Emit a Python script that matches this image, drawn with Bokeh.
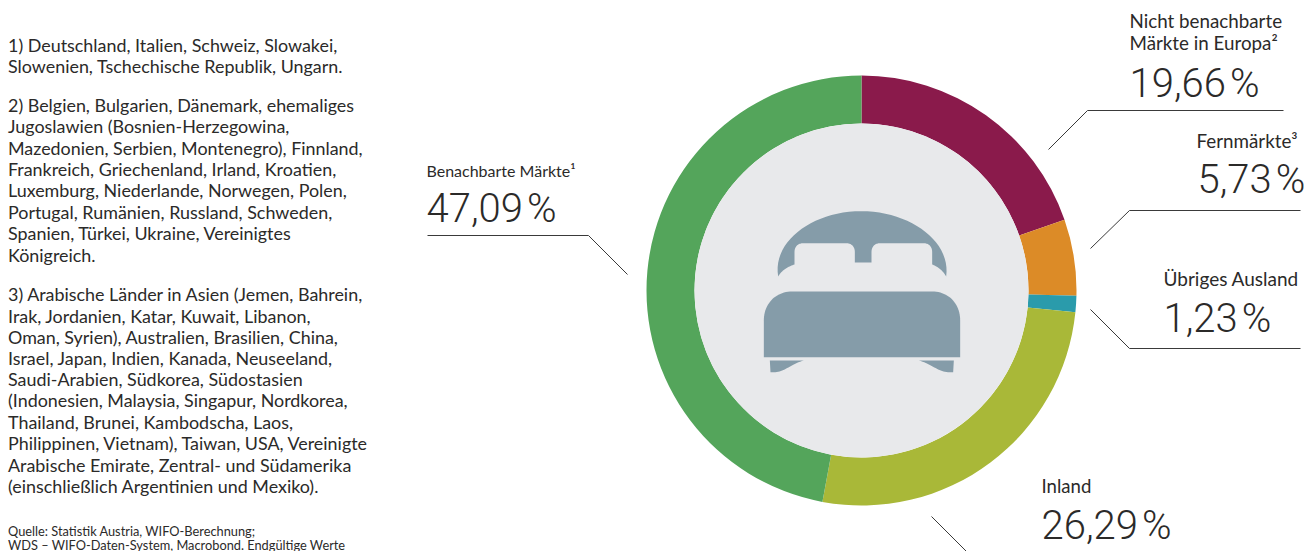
from math import pi
import numpy as np
from bokeh.plotting import figure
from bokeh.models import Range1d, ColumnDataSource
from bokeh.core.properties import value
from bokeh.embed import file_html
from bokeh.resources import INLINE

# ---- data
categories = ["Nicht benachbarte Märkte in Europa", "Fernmärkte", "Übriges Ausland", "Inland", "Benachbarte Märkte"]
shares = [19.66, 5.73, 1.23, 26.29, 47.09]
share_labels = ["19,66\u200a%", "5,73\u200a%", "1,23\u200a%", "26,29\u200a%", "47,09\u200a%"]
colors = ["#8a1a4b", "#dc8b27", "#2a9bab", "#a9b838", "#54a55b"]

footnotes = [
    "1) Deutschland, Italien, Schweiz, Slowakei,",
    "Slowenien, Tschechische Republik, Ungarn.",
    "2) Belgien, Bulgarien, Dänemark, ehemaliges",
    "Jugoslawien (Bosnien-Herzegowina,",
    "Mazedonien, Serbien, Montenegro), Finnland,",
    "Frankreich, Griechenland, Irland, Kroatien,",
    "Luxemburg, Niederlande, Norwegen, Polen,",
    "Portugal, Rumänien, Russland, Schweden,",
    "Spanien, Türkei, Ukraine, Vereinigtes",
    "Königreich.",
    "3) Arabische Länder in Asien (Jemen, Bahrein,",
    "Irak, Jordanien, Katar, Kuwait, Libanon,",
    "Oman, Syrien), Australien, Brasilien, China,",
    "Israel, Japan, Indien, Kanada, Neuseeland,",
    "Saudi-Arabien, Südkorea, Südostasien",
    "(Indonesien, Malaysia, Singapur, Nordkorea,",
    "Thailand, Brunei, Kambodscha, Laos,",
    "Philippinen, Vietnam), Taiwan, USA, Vereinigte",
    "Arabische Emirate, Zentral- und Südamerika",
    "(einschließlich Argentinien und Mexiko).",
]
footnote_base = [51, 72.5, 111, 132.5, 154, 175, 196, 218, 239.5, 261, 300.5, 322, 343.5, 364.5, 385, 406.5, 428, 449.5, 471, 492.5]
source_lines = ["Quelle: Statistik Austria, WIFO-Berechnung;", "WDS – WIFO-Daten-System, Macrobond. Endgültige Werte"]
source_base = [535, 549]

name_lines = ["Nicht benachbarte", "Märkte in Europa²", "Fernmärkte³", "Übriges Ausland", "Inland", "Benachbarte Märkte¹"]
name_x = [1129, 1129, 1196, 1163, 1041, 426]
name_base = [27, 49, 147, 285, 492, 176]
name_size = [18.8, 18.8, 18.8, 19, 18.6, 16]
value_x = [1129, 1197, 1163, 1041, 426]
value_base = [98, 194, 333, 540, 223]

leaders = [
    ([1283, 1087, 1048], [110, 110, 149]),
    ([1300, 1129, 1090], [210, 210, 248]),
    ([1090, 1129, 1300], [309, 348, 348]),
    ([931, 966, 1000], [516, 551, 551]),
    ([427, 588, 627], [235, 235, 274]),
]

# ---- page geometry: data units are page pixels
W, H = 1316, 551
def Y(y):
    return H - np.asarray(y, dtype=float)

p = figure(width=W, height=H, output_backend="svg", toolbar_location=None,
           x_range=Range1d(0, W), y_range=Range1d(0, H),
           min_border=0, outline_line_color=None, background_fill_color="white",
           border_fill_color="white")
p.axis.visible = False
p.grid.visible = False

# ---- donut
cx, cy, R_out, R_in = 861, 290, 215, 167
fr = np.array(shares) / sum(shares) * 2 * pi
ends = np.cumsum(fr)
starts = ends - fr
src = ColumnDataSource(dict(start=pi / 2 - starts, end=pi / 2 - ends, color=colors, name=categories))
p.annular_wedge(x=cx, y=float(Y(cy)), inner_radius=R_in, outer_radius=R_out, start_angle="start",
                end_angle="end", direction="clock", fill_color="color", line_color=None, source=src)
p.scatter(x=[cx], y=[float(Y(cy))], size=2 * R_in, marker="circle", fill_color="#e8e9eb", line_color=None)

# ---- bed icon
def bez(a, b, c, d, n=24):
    t = np.linspace(0, 1, n)[:, None]
    a, b, c, d = map(np.array, (a, b, c, d))
    return ((1-t)**3*a + 3*(1-t)**2*t*b + 3*(1-t)*t**2*c + t**3*d).tolist()

def icon(pts):
    a = np.array(pts, dtype=float)
    return (a[:, 0] / 3 + 740).tolist(), Y(a[:, 1] / 3 + 190).tolist()

head = (bez((113, 258), (95, 150), (220, 62), (362, 62)) + bez((362, 62), (505, 62), (632, 150), (617, 258))
        + bez((617, 258), (608, 242), (595, 230), (575, 222))
        + [(575, 185)] + bez((575, 185), (575, 168), (565, 158), (548, 158))
        + [(420, 158)] + bez((420, 158), (403, 158), (393, 168), (393, 185))
        + [(393, 216), (343, 216), (343, 185)] + bez((343, 185), (343, 168), (333, 158), (316, 158))
        + [(190, 158)] + bez((190, 158), (172, 158), (162, 168), (162, 185))
        + [(162, 222)] + bez((162, 222), (138, 230), (122, 242), (113, 258)))
mattress = ([(70, 500), (70, 390)] + bez((70, 390), (70, 340), (105, 303), (155, 303))
            + [(575, 303)] + bez((575, 303), (625, 303), (659, 340), (659, 390)) + [(659, 500)])
leg_l = [(88, 510), (190, 510)] + bez((190, 510), (145, 522), (130, 550), (90, 545))
leg_r = [(640, 510), (535, 510)] + bez((535, 510), (580, 522), (595, 550), (638, 545))
for shape in (head, mattress, leg_l, leg_r):
    xs, ys = icon(shape)
    p.patch(xs, ys, fill_color="#859ca9", line_color=None)

# ---- leader lines
for lx, ly in leaders:
    p.line(lx, Y(ly).tolist(), line_color="#3a3a3a", line_width=1)

# ---- texts
INK = "#2b2a29"
K = 0.37  # the renderer sets the alphabetic baseline this share of a font size too low
def base(ys, size):
    return (Y(ys) + K * np.asarray(size, dtype=float)).tolist()

p.text(x=[7.5] * len(footnotes), y=base(footnote_base, 17.9), text=footnotes, text_font=value("Lato"),
       text_font_size="17.9px", text_color=INK, text_baseline="alphabetic")
p.text(x=[7.5] * 2, y=base(source_base, 12.8), text=source_lines, text_font=value("Lato"),
       text_font_size="12.8px", text_color=INK, text_baseline="alphabetic")
for nx, ny, nt, ns in zip(name_x, name_base, name_lines, name_size):
    p.text(x=[nx], y=base([ny], ns), text=[nt], text_font=value("Lato"),
           text_font_size=f"{ns}px", text_color=INK, text_baseline="alphabetic")
p.text(x=value_x, y=base(value_base, 40), text=share_labels, text_font=value("Roboto Light"),
       text_font_size="40px", text_color=INK, text_baseline="alphabetic")

open("out.html", "w").write(file_html(p, INLINE))
